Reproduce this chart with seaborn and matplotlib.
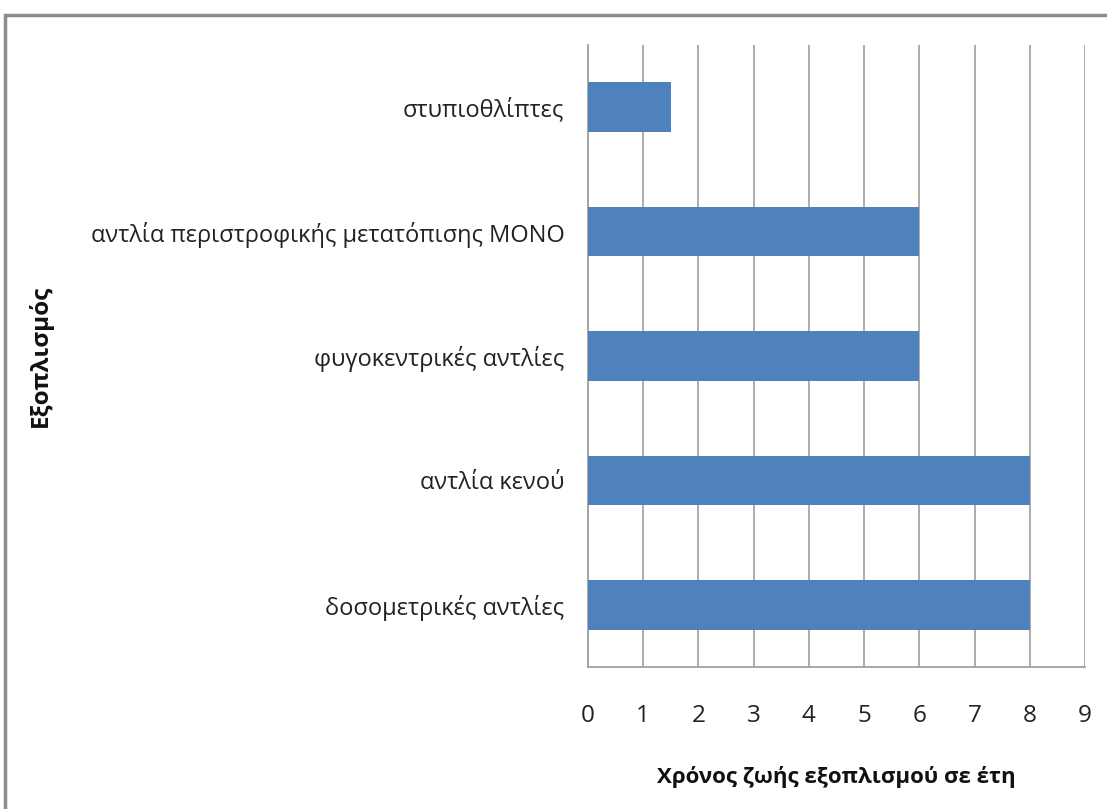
import matplotlib
matplotlib.use("Agg")
import matplotlib.pyplot as plt
import seaborn as sns
import pandas as pd
from matplotlib.patches import Rectangle

# δεδομένα
categories = ["στυπιοθλίπτες", "αντλία περιστροφικής μετατόπισης MONO",
              "φυγοκεντρικές αντλίες", "αντλία κενού", "δοσομετρικές αντλίες"]
years = [1.5, 6, 6, 8, 8]
x_ticks = list(range(0, 10))

df = pd.DataFrame({"Εξοπλισμός": categories, "Χρόνος": years})

sns.set_style("white")
plt.rcParams["font.family"] = ["Open Sans", "DejaVu Sans"]

fig = plt.figure(figsize=(11.07, 8.09), dpi=100)
ax = fig.add_axes([588 / 1107, 1 - 667 / 809, (1085 - 588) / 1107, (667 - 45) / 809])

sns.barplot(data=df, x="Χρόνος", y="Εξοπλισμός", color="#4F81BD",
            saturation=1, width=0.4, linewidth=0, ax=ax, zorder=3)

ax.set_xlim(0, 9)
ax.set_ylim(4.5, -0.5)
ax.set_xticks(x_ticks)
ax.set_xticklabels([str(t) for t in x_ticks], fontsize=17.5, color="#222222")
ax.tick_params(axis="x", length=9, width=1.2, color="#A0A0A0", pad=18)
ax.tick_params(axis="y", length=0, pad=17, labelsize=17, labelcolor="#222222")
ax.grid(axis="x", color="#A6A6A6", linewidth=1.3, zorder=0)
for s in ["top", "right"]:
    ax.spines[s].set_visible(False)
for s in ["left", "bottom"]:
    ax.spines[s].set_color("#A0A0A0")
    ax.spines[s].set_linewidth(1.3)

ax.set_xlabel("Χρόνος ζωής εξοπλισμού σε έτη", fontsize=16, fontweight="bold",
              labelpad=27, color="#111111")
ax.set_ylabel("")
fig.text(40 / 1107, 1 - 356 / 809, "Εξοπλισμός", rotation=90, fontsize=17.5,
         fontweight="bold", ha="center", va="center", color="#111111")

# πλαίσιο γραφήματος
fig.patches.append(Rectangle((5 / 1107, -0.1), 1.2, 1 - 15 / 809 + 0.1,
                             transform=fig.transFigure, fill=False,
                             edgecolor="#8C8C8C", linewidth=2.5))

fig.savefig("out.png", dpi=100)
